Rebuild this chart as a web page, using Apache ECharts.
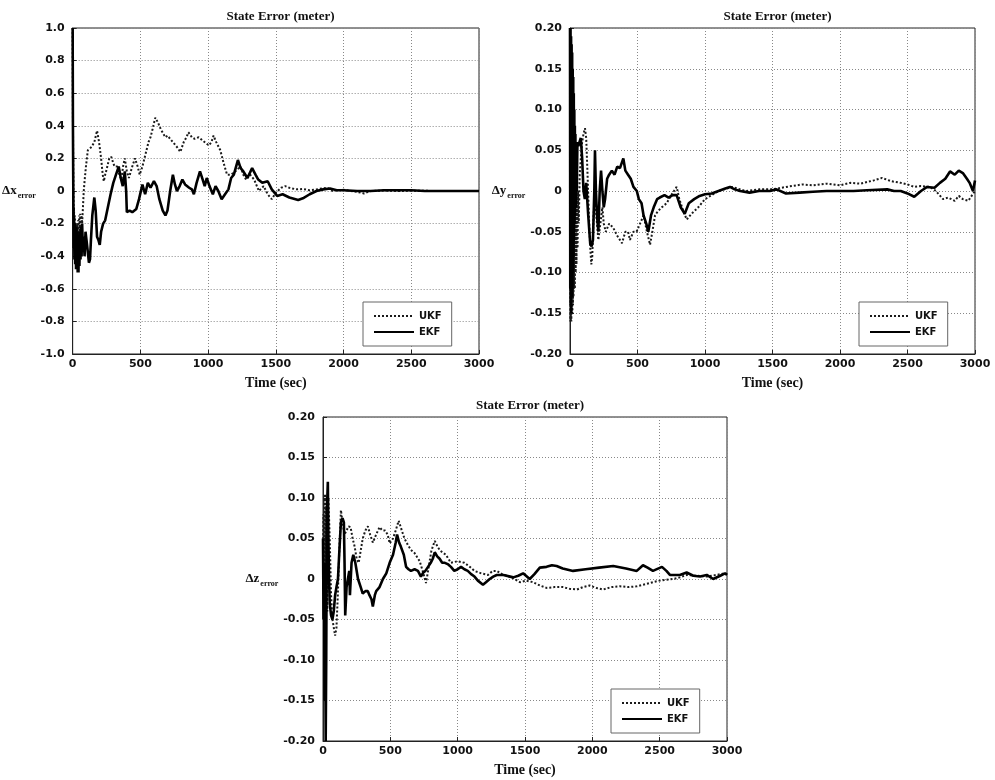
<!DOCTYPE html>
<html>
<head>
<meta charset="utf-8">
<script src="https://cdn.jsdelivr.net/npm/echarts@6/dist/echarts.min.js"></script>
<style>
html,body{margin:0;padding:0;background:#fff;}
#chart{width:995px;height:780px;}
</style>
</head>
<body>
<div id="chart"></div>
<script>
// ---------------- DATA ----------------
var titleText = 'State Error (meter)';
var xAxisTitle = 'Time (sec)';
var seriesNames = ['UKF', 'EKF'];
var yAxisNames = ['Δx', 'Δy', 'Δz'];
var timeTicks = [0, 500, 1000, 1500, 2000, 2500, 3000];
var xTicksY = [1.0, 0.8, 0.6, 0.4, 0.2, 0, -0.2, -0.4, -0.6, -0.8, -1.0];
var yzTicksY = [0.20, 0.15, 0.10, 0.05, 0, -0.05, -0.10, -0.15, -0.20];

// Panel 1 : Δx  ([time, value])
var dxUKF = [[0,1.0],[2,0.45],[4,0.15],[6,-0.05],[8,-0.2],[10,-0.1],[13,-0.3],[16,-0.15],[19,-0.35],[22,-0.2],[25,-0.4],[28,-0.22],[31,-0.38],[34,-0.2],[37,-0.33],[40,-0.18],[44,-0.3],[48,-0.15],[52,-0.28],[56,-0.14],[60,-0.25],[65,-0.15],[70,-0.2],[76,-0.1],[82,0.0],[90,0.08],[98,0.15],[105,0.2],[112,0.25],[125,0.26],[140,0.27],[160,0.3],[180,0.37],[195,0.3],[210,0.2],[222,0.1],[230,0.06],[240,0.1],[250,0.13],[270,0.2],[285,0.21],[300,0.17],[310,0.15],[330,0.15],[345,0.1],[360,0.07],[372,0.15],[385,0.2],[400,0.12],[415,0.08],[440,0.15],[460,0.2],[480,0.15],[495,0.1],[515,0.15],[530,0.2],[545,0.25],[560,0.3],[575,0.33],[590,0.38],[610,0.45],[630,0.42],[650,0.38],[670,0.35],[685,0.33],[700,0.34],[720,0.32],[740,0.3],[770,0.27],[795,0.24],[820,0.3],[840,0.33],[855,0.36],[880,0.33],[900,0.32],[930,0.33],[960,0.31],[990,0.29],[1005,0.28],[1025,0.3],[1040,0.34],[1060,0.3],[1090,0.25],[1115,0.17],[1140,0.1],[1170,0.1],[1200,0.12],[1240,0.15],[1260,0.1],[1280,0.07],[1310,0.1],[1340,0.07],[1375,0.0],[1410,0.03],[1440,-0.02],[1470,-0.05],[1500,-0.01],[1540,0.02],[1570,0.03],[1600,0.02],[1650,0.01],[1700,0.012],[1750,0.005],[1800,0.01],[1880,0.02],[1920,0.0],[1950,0.005],[2000,0.008],[2050,0.0],[2100,-0.005],[2150,-0.015],[2200,0.0],[2300,0.003],[2400,0.0],[2500,0.002],[2700,0.0],[3000,0.0]];
var dxEKF = [[0,1.0],[2,0.4],[4,0.1],[6,-0.15],[8,-0.35],[10,-0.15],[13,-0.42],[16,-0.2],[19,-0.45],[22,-0.25],[25,-0.48],[28,-0.22],[31,-0.47],[34,-0.25],[37,-0.5],[40,-0.28],[43,-0.5],[46,-0.3],[50,-0.46],[54,-0.25],[58,-0.42],[62,-0.22],[66,-0.4],[70,-0.2],[75,-0.35],[80,-0.28],[88,-0.4],[95,-0.25],[102,-0.3],[110,-0.36],[120,-0.44],[128,-0.42],[135,-0.3],[145,-0.15],[160,-0.04],[170,-0.12],[180,-0.28],[190,-0.3],[200,-0.33],[210,-0.25],[225,-0.2],[240,-0.18],[260,-0.1],[280,-0.02],[300,0.05],[320,0.1],[340,0.15],[355,0.08],[370,0.03],[385,0.12],[395,0.0],[400,-0.13],[420,-0.12],[440,-0.13],[470,-0.11],[490,-0.05],[515,0.04],[535,-0.02],[555,0.05],[575,0.02],[600,0.06],[620,0.03],[640,-0.05],[665,-0.12],[685,-0.15],[700,-0.12],[720,0.0],[740,0.1],[755,0.04],[770,0.0],[790,0.03],[810,0.07],[830,0.04],[860,0.02],[880,0.01],[895,-0.02],[915,0.05],[940,0.12],[960,0.07],[975,0.03],[990,0.08],[1010,0.03],[1035,-0.02],[1055,0.03],[1075,0.0],[1100,-0.05],[1125,-0.02],[1150,0.01],[1170,0.08],[1190,0.1],[1220,0.19],[1240,0.14],[1260,0.12],[1290,0.08],[1325,0.14],[1350,0.1],[1370,0.07],[1400,0.05],[1440,0.06],[1470,0.01],[1510,-0.03],[1550,-0.02],[1600,-0.04],[1665,-0.055],[1700,-0.045],[1750,-0.02],[1800,0.0],[1850,0.01],[1900,0.015],[1950,0.005],[2000,0.005],[2100,0.0],[2200,0.0],[2300,0.005],[2500,0.005],[2600,0.0],[3000,0.0]];

// Panel 2 : Δy
var dyUKF = [[0,0.19],[2,-0.16],[4,0.18],[6,-0.16],[8,0.15],[10,-0.16],[12,0.13],[14,-0.15],[16,0.11],[18,-0.15],[20,0.1],[22,-0.14],[24,0.09],[26,-0.13],[28,0.08],[30,-0.12],[33,0.06],[36,-0.12],[39,0.05],[42,-0.1],[45,0.04],[48,-0.09],[52,0.03],[56,-0.07],[60,0.0],[65,-0.04],[72,0.02],[80,0.04],[90,0.06],[100,0.07],[111,0.077],[120,0.065],[130,0.02],[140,-0.03],[150,-0.07],[158,-0.09],[165,-0.08],[175,-0.03],[185,0.0],[195,-0.03],[210,-0.06],[225,-0.04],[240,-0.02],[250,-0.04],[265,-0.05],[290,-0.04],[320,-0.045],[350,-0.055],[385,-0.064],[410,-0.05],[430,-0.05],[444,-0.06],[470,-0.05],[493,-0.05],[519,-0.04],[545,-0.03],[570,-0.05],[593,-0.066],[610,-0.05],[630,-0.03],[650,-0.025],[680,-0.02],[716,-0.015],[750,-0.005],[790,0.005],[810,-0.01],[840,-0.025],[865,-0.035],[900,-0.028],[950,-0.02],[1000,-0.01],[1050,-0.005],[1100,0.0],[1200,0.005],[1300,0.0],[1400,0.002],[1500,0.002],[1600,0.005],[1720,0.008],[1800,0.007],[1900,0.009],[2000,0.007],[2074,0.01],[2150,0.009],[2250,0.013],[2311,0.016],[2380,0.012],[2450,0.01],[2500,0.008],[2550,0.005],[2600,0.006],[2667,0.005],[2710,0.0],[2763,-0.01],[2800,-0.008],[2850,-0.012],[2880,-0.006],[2910,-0.01],[2950,-0.012],[2975,-0.006],[3000,0.0]];
var dyEKF = [[0,0.2],[2,-0.12],[4,0.2],[6,-0.14],[8,0.19],[10,-0.15],[12,0.18],[14,-0.13],[16,0.17],[18,-0.12],[20,0.15],[22,-0.1],[24,0.14],[26,-0.08],[28,0.12],[30,-0.06],[32,0.1],[34,-0.04],[36,0.08],[38,-0.03],[40,0.07],[43,-0.02],[46,0.06],[50,0.0],[55,0.06],[62,0.055],[70,0.06],[80,0.065],[90,0.04],[100,0.0],[110,-0.01],[120,0.01],[135,-0.03],[150,-0.065],[160,-0.068],[170,-0.06],[180,0.0],[185,0.05],[192,0.0],[200,-0.03],[210,-0.05],[220,0.0],[230,0.025],[240,0.0],[250,-0.02],[260,-0.01],[275,0.015],[290,0.02],[310,0.025],[330,0.02],[350,0.03],[370,0.028],[395,0.04],[410,0.025],[430,0.02],[450,0.015],[470,0.005],[495,0.0],[510,-0.01],[530,-0.015],[545,-0.03],[565,-0.04],[580,-0.05],[600,-0.03],[620,-0.02],[645,-0.01],[665,-0.008],[700,-0.005],[730,-0.008],[760,-0.005],[790,-0.005],[820,-0.02],[850,-0.028],[880,-0.015],[920,-0.01],[960,-0.006],[1000,-0.004],[1050,-0.003],[1100,0.0],[1150,0.003],[1185,0.005],[1220,0.002],[1260,0.0],[1330,-0.002],[1400,0.0],[1480,0.0],[1530,0.002],[1600,-0.003],[1700,-0.002],[1800,-0.001],[1900,0.0],[2000,0.0],[2100,0.0],[2200,0.001],[2350,0.002],[2400,0.0],[2450,0.0],[2500,-0.003],[2550,-0.007],[2600,0.0],[2645,0.005],[2700,0.004],[2740,0.01],[2780,0.015],[2815,0.024],[2850,0.02],[2880,0.025],[2910,0.022],[2940,0.015],[2960,0.01],[2985,0.0],[3000,0.013]];

// Panel 3 : Δz
var dzUKF = [[0,0.0],[3,0.08],[6,-0.05],[9,0.1],[12,-0.08],[15,0.105],[18,-0.05],[21,0.09],[24,-0.02],[28,0.07],[32,-0.04],[40,0.1],[50,0.05],[60,-0.02],[70,-0.05],[80,-0.06],[90,-0.07],[100,-0.06],[110,-0.02],[120,0.03],[133,0.085],[145,0.07],[160,0.055],[175,0.06],[190,0.065],[205,0.064],[220,0.05],[235,0.04],[250,0.025],[265,0.02],[280,0.035],[295,0.05],[315,0.06],[333,0.065],[350,0.055],[370,0.045],[395,0.055],[420,0.064],[440,0.06],[460,0.06],[480,0.055],[495,0.044],[520,0.05],[540,0.06],[562,0.072],[585,0.06],[605,0.05],[630,0.042],[653,0.036],[680,0.032],[718,0.022],[740,0.01],[765,-0.005],[785,0.015],[805,0.035],[830,0.047],[850,0.04],[870,0.035],[912,0.03],[950,0.02],[1000,0.022],[1050,0.02],[1090,0.015],[1125,0.01],[1175,0.007],[1225,0.005],[1260,0.01],[1290,0.01],[1330,0.006],[1400,0.002],[1462,-0.004],[1510,-0.002],[1560,-0.004],[1610,-0.008],[1660,-0.011],[1720,-0.01],[1782,-0.01],[1830,-0.012],[1885,-0.013],[1930,-0.01],[1980,-0.008],[2030,-0.011],[2080,-0.013],[2140,-0.01],[2205,-0.009],[2270,-0.01],[2330,-0.009],[2405,-0.006],[2450,-0.004],[2500,-0.002],[2550,-0.001],[2600,0.0],[2650,0.002],[2700,0.005],[2780,0.004],[2850,0.003],[2920,0.005],[2985,0.007],[3000,0.006]];
var dzEKF = [[0,0.05],[4,-0.05],[8,0.02],[12,-0.15],[16,-0.05],[20,-0.2],[24,-0.1],[28,0.05],[32,0.1],[36,0.12],[40,0.05],[45,0.0],[50,-0.03],[60,-0.045],[70,-0.05],[80,-0.04],[90,-0.02],[100,-0.01],[111,0.0],[120,0.03],[133,0.07],[145,0.075],[155,0.07],[160,0.02],[165,-0.045],[175,-0.01],[185,0.0],[195,0.01],[200,-0.02],[212,0.02],[225,0.03],[240,0.02],[260,0.0],[280,-0.01],[295,-0.018],[315,-0.015],[333,-0.015],[345,-0.02],[360,-0.025],[370,-0.034],[385,-0.02],[395,-0.015],[420,-0.01],[445,0.0],[470,0.007],[495,0.02],[520,0.03],[540,0.045],[550,0.055],[565,0.045],[578,0.04],[600,0.03],[617,0.015],[635,0.012],[653,0.01],[680,0.012],[705,0.01],[727,0.003],[745,0.008],[760,0.01],[780,0.015],[800,0.02],[815,0.025],[830,0.033],[848,0.028],[866,0.025],[885,0.02],[905,0.02],[930,0.018],[950,0.015],[975,0.01],[1000,0.012],[1025,0.015],[1050,0.012],[1075,0.01],[1100,0.006],[1125,0.003],[1150,-0.002],[1188,-0.007],[1210,-0.004],[1238,0.0],[1264,0.003],[1290,0.005],[1340,0.005],[1413,0.002],[1450,0.004],[1486,0.007],[1535,0.0],[1570,0.006],[1610,0.014],[1660,0.015],[1700,0.017],[1735,0.016],[1780,0.013],[1857,0.01],[1950,0.012],[2050,0.014],[2155,0.016],[2250,0.013],[2330,0.01],[2376,0.017],[2410,0.014],[2450,0.01],[2517,0.015],[2550,0.01],[2576,0.005],[2650,0.005],[2700,0.008],[2750,0.004],[2800,0.003],[2850,0.005],[2897,0.0],[2950,0.004],[2985,0.007],[3000,0.005]];

// ---------------- LAYOUT / STYLE ----------------
var grids = [
  {left: 72, top: 28, width: 407, height: 326},
  {left: 570, top: 28, width: 405, height: 326},
  {left: 323, top: 417, width: 404, height: 324}
];
var yRanges = [
  {min: -1.0, max: 1.0, interval: 0.2, digits: 1},
  {min: -0.2, max: 0.2, interval: 0.05, digits: 2},
  {min: -0.2, max: 0.2, interval: 0.05, digits: 2}
];
var panelData = [[dxUKF, dxEKF], [dyUKF, dyEKF], [dzUKF, dzEKF]];
var serifFont = '"Liberation Serif", "DejaVu Serif", serif';
var sansFont = '"DejaVu Sans", sans-serif';

var option = {
  backgroundColor: '#ffffff',
  animation: false,
  title: [], grid: [], xAxis: [], yAxis: [], series: [], legend: []
};

grids.forEach(function (g, i) {
  option.grid.push({left: g.left, top: g.top, width: g.width, height: g.height,
    show: true, borderColor: '#222', borderWidth: 1, backgroundColor: '#fff'});
  option.title.push({
    text: titleText,
    left: g.left + g.width / 2, top: g.top - 23, textAlign: 'center',
    textStyle: {fontFamily: serifFont, fontWeight: 'bold', fontSize: 13, color: '#111'}
  });
  var yr = yRanges[i];
  option.xAxis.push({
    type: 'value', gridIndex: i, min: timeTicks[0], max: timeTicks[timeTicks.length - 1], interval: 500,
    name: xAxisTitle, nameLocation: 'middle', nameGap: 22,
    nameTextStyle: {fontFamily: serifFont, fontWeight: 'bold', fontSize: 14, color: '#111'},
    axisLine: {show: true, onZero: false, lineStyle: {color: '#222', width: 1}},
    axisTick: {show: true, inside: true, length: 4, lineStyle: {color: '#222'}},
    axisLabel: {fontFamily: sansFont, fontWeight: 'bold', fontSize: 11, color: '#111', margin: 5,
      formatter: function (v) { return String(v); }},
    splitLine: {show: true, lineStyle: {color: '#888', type: [1, 2], width: 1}}
  });
  option.yAxis.push({
    type: 'value', gridIndex: i, min: yr.min, max: yr.max, interval: yr.interval,
    name: '{a|' + yAxisNames[i] + '}{b|error}', nameLocation: 'middle', nameRotate: 0, nameGap: 25,
    nameTextStyle: {align: 'right', verticalAlign: 'middle',
      rich: {
        a: {fontFamily: serifFont, fontWeight: 'bold', fontSize: 13, color: '#111', lineHeight: 18, verticalAlign: 'middle'},
        b: {fontFamily: serifFont, fontWeight: 'bold', fontSize: 8, color: '#111', lineHeight: 18, verticalAlign: 'bottom', padding: [6, 0, 0, 1]}
      }},
    axisLine: {show: true, onZero: false, lineStyle: {color: '#222', width: 1}},
    axisTick: {show: true, inside: true, length: 4, lineStyle: {color: '#222'}},
    axisLabel: {fontFamily: sansFont, fontWeight: 'bold', fontSize: 11, color: '#111', margin: 8,
      formatter: function (v) { return Math.abs(v) < 1e-9 ? '0' : v.toFixed(yr.digits); }},
    splitLine: {show: true, lineStyle: {color: '#888', type: [1, 2], width: 1}}
  });
  var pd = panelData[i];
  option.series.push({
    name: seriesNames[0], type: 'line', xAxisIndex: i, yAxisIndex: i, data: pd[0],
    showSymbol: false, symbol: 'none', z: 3,
    lineStyle: {color: '#1a1a1a', width: 2, type: [2, 2]}, itemStyle: {color: '#1a1a1a'}
  });
  option.series.push({
    name: seriesNames[1], type: 'line', xAxisIndex: i, yAxisIndex: i, data: pd[1],
    showSymbol: false, symbol: 'none', z: 4,
    lineStyle: {color: '#000', width: 2.6, type: 'solid'}, itemStyle: {color: '#000'}
  });
  option.legend.push({
    show: true, z: 10,
    data: seriesNames.slice(), orient: 'vertical',
    left: g.left + g.width - 116, top: g.top + g.height - 52,
    backgroundColor: '#fff', borderColor: '#666', borderWidth: 1,
    padding: [9, 10, 9, 10], itemGap: 6, itemWidth: 40, itemHeight: 10,
    selectedMode: false,
    itemStyle: {opacity: 0},
    textStyle: {fontFamily: sansFont, fontWeight: 'bold', fontSize: 10, color: '#111'}
  });
});

var chart = echarts.init(document.getElementById('chart'), null, {renderer: 'canvas'});
chart.setOption(option);
</script>
</body>
</html>
